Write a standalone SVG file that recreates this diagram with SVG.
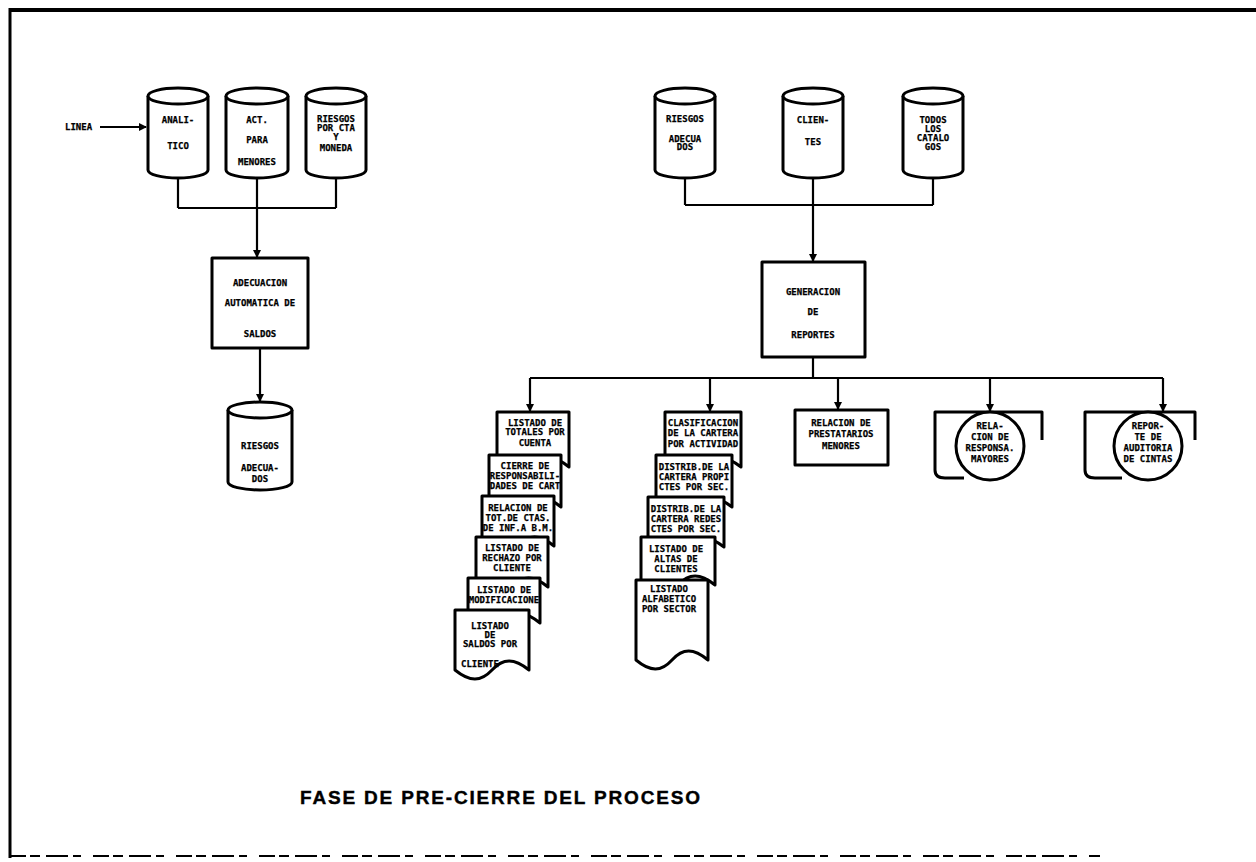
<svg xmlns="http://www.w3.org/2000/svg" width="1256" height="862" viewBox="0 0 1256 862">
  <style>
    .ln { fill: none; stroke: #000; stroke-width: 2.2; }
    .shape { fill: #fff; stroke: #000; stroke-width: 3; stroke-linejoin: round; }
    .t { font-family: "DejaVu Sans Mono", "Liberation Mono", monospace; font-weight: bold; font-size: 9px; fill: #000; stroke: #000; stroke-width: 0.25; text-anchor: middle; }
    .tl { text-anchor: start; }
    .title { font-family: "Liberation Sans", Arial, sans-serif; font-weight: bold; font-size: 19px; fill: #000; stroke: #000; stroke-width: 0.4; }
  </style>
  <defs>
    <marker id="arr" markerWidth="8" markerHeight="8" refX="7" refY="4" orient="auto" markerUnits="userSpaceOnUse">
      <path d="M0,0 L8,4 L0,8 Z" fill="#000"/>
    </marker>
  </defs>

  <rect width="1256" height="862" fill="#fff"/>

  <!-- page frame -->
  <g id="frame">
    <path d="M10,10 H1256" fill="none" stroke="#000" stroke-width="4"/>
    <path d="M10,8 V858" fill="none" stroke="#000" stroke-width="3"/>
    <path d="M10,856 H1100" fill="none" stroke="#000" stroke-width="2" stroke-dasharray="16 4 10 6 22 5 8 12"/>
  </g>

  <!-- connectors -->
  <g id="connectors">
    <path class="ln" d="M100,127 H146" marker-end="url(#arr)"/>
    <path class="ln" d="M178,178 V208 M257,178 V208 M336,178 V208 M178,208 H336"/>
    <path class="ln" d="M257,208 V257" marker-end="url(#arr)"/>
    <path class="ln" d="M260,348 V401" marker-end="url(#arr)"/>
    <path class="ln" d="M685,178 V205 M813,178 V205 M933,178 V205 M685,205 H933"/>
    <path class="ln" d="M813,205 V261" marker-end="url(#arr)"/>
    <path class="ln" d="M813,357 V378 M530,378 H1163"/>
    <path class="ln" d="M530,378 V411" marker-end="url(#arr)"/>
    <path class="ln" d="M710,378 V411" marker-end="url(#arr)"/>
    <path class="ln" d="M838,378 V409" marker-end="url(#arr)"/>
    <path class="ln" d="M990,378 V411" marker-end="url(#arr)"/>
    <path class="ln" d="M1163,378 V411" marker-end="url(#arr)"/>
  </g>

  <g id="linea">
    <text class="t tl" x="65" y="130">LINEA</text>
  </g>

  <!-- input files -->
  <g id="analitico">
    <path class="shape" d="M148,96 V170 A30,8 0 0 0 208,170 V96"/>
    <ellipse class="shape" cx="178" cy="96" rx="30" ry="8"/>
    <text class="t" x="178" y="123">ANALI-</text>
    <text class="t" x="178" y="149">TICO</text>
  </g>
  <g id="act-menores">
    <path class="shape" d="M226,96 V170 A31,8 0 0 0 288,170 V96"/>
    <ellipse class="shape" cx="257" cy="96" rx="31" ry="8"/>
    <text class="t" x="257" y="123">ACT.</text>
    <text class="t" x="257" y="143">PARA</text>
    <text class="t" x="257" y="165">MENORES</text>
  </g>
  <g id="riesgos-cta">
    <path class="shape" d="M306,96 V170 A30,8 0 0 0 366,170 V96"/>
    <ellipse class="shape" cx="336" cy="96" rx="30" ry="8"/>
    <text class="t" x="336" y="122">RIESGOS</text>
    <text class="t" x="336" y="131">POR CTA</text>
    <text class="t" x="336" y="140">Y</text>
    <text class="t" x="336" y="151">MONEDA</text>
  </g>

  <g id="adecuacion">
    <rect class="shape" x="212" y="258" width="96" height="90"/>
    <text class="t" x="260" y="286">ADECUACION</text>
    <text class="t" x="260" y="306">AUTOMATICA DE</text>
    <text class="t" x="260" y="337">SALDOS</text>
  </g>

  <g id="riesgos-adecuados-out">
    <path class="shape" d="M228,410 V482 A32,8 0 0 0 292,482 V410"/>
    <ellipse class="shape" cx="260" cy="410" rx="32" ry="8"/>
    <text class="t" x="260" y="449">RIESGOS</text>
    <text class="t" x="260" y="471">ADECUA-</text>
    <text class="t" x="260" y="482">DOS</text>
  </g>

  <g id="riesgos-adecuados-in">
    <path class="shape" d="M655,96 V170 A30,8 0 0 0 715,170 V96"/>
    <ellipse class="shape" cx="685" cy="96" rx="30" ry="8"/>
    <text class="t" x="685" y="122">RIESGOS</text>
    <text class="t" x="685" y="142">ADECUA</text>
    <text class="t" x="685" y="150">DOS</text>
  </g>
  <g id="clientes">
    <path class="shape" d="M783,96 V170 A30,8 0 0 0 843,170 V96"/>
    <ellipse class="shape" cx="813" cy="96" rx="30" ry="8"/>
    <text class="t" x="813" y="123">CLIEN-</text>
    <text class="t" x="813" y="145">TES</text>
  </g>
  <g id="catalogos">
    <path class="shape" d="M903,96 V170 A30,8 0 0 0 963,170 V96"/>
    <ellipse class="shape" cx="933" cy="96" rx="30" ry="8"/>
    <text class="t" x="933" y="123">TODOS</text>
    <text class="t" x="933" y="132">LOS</text>
    <text class="t" x="933" y="141">CATALO</text>
    <text class="t" x="933" y="150">GOS</text>
  </g>

  <g id="generacion">
    <rect class="shape" x="762" y="262" width="103" height="95"/>
    <text class="t" x="813" y="295">GENERACION</text>
    <text class="t" x="813" y="315">DE</text>
    <text class="t" x="813" y="338">REPORTES</text>
  </g>

  <!-- account reports -->
  <g id="rep-totales">
    <path class="shape" d="M497,412 H569 V467 C554.6,455 543.8,455 533,467 C522.2,479 511.4,479 497,467 Z"/>
    <text class="t" x="535" y="426">LISTADO DE</text>
    <text class="t" x="535" y="435">TOTALES POR</text>
    <text class="t" x="535" y="446">CUENTA</text>
  </g>
  <g id="rep-cierre">
    <path class="shape" d="M489,455 H561 V507 C546.6,495 535.8,495 525,507 C514.2,519 503.4,519 489,507 Z"/>
    <text class="t" x="525" y="469">CIERRE DE</text>
    <text class="t" x="525" y="479">RESPONSABILI-</text>
    <text class="t" x="525" y="489">DADES DE CART</text>
  </g>
  <g id="rep-relacion-ctas">
    <path class="shape" d="M482,496 H554 V546 C539.6,534 528.8,534 518,546 C507.2,558 496.4,558 482,546 Z"/>
    <text class="t" x="518" y="511">RELACION DE</text>
    <text class="t" x="518" y="521">TOT.DE CTAS.</text>
    <text class="t" x="518" y="531">DE INF.A B.M.</text>
  </g>
  <g id="rep-rechazo">
    <path class="shape" d="M476,537 H548 V587 C533.6,575 522.8,575 512,587 C501.2,599 490.4,599 476,587 Z"/>
    <text class="t" x="512" y="551">LISTADO DE</text>
    <text class="t" x="512" y="561">RECHAZO POR</text>
    <text class="t" x="512" y="571">CLIENTE</text>
  </g>
  <g id="rep-modificaciones">
    <path class="shape" d="M468,578 H540 V623 C525.6,611 514.8,611 504,623 C493.2,635 482.4,635 468,623 Z"/>
    <text class="t" x="504" y="593">LISTADO DE</text>
    <text class="t" x="504" y="603">MODIFICACIONE</text>
  </g>
  <g id="rep-saldos">
    <path class="shape" d="M455,610 H529 V670 C514.2,658 503.1,658 492,670 C480.9,682 469.8,682 455,670 Z"/>
    <text class="t" x="490" y="629">LISTADO</text>
    <text class="t" x="490" y="638">DE</text>
    <text class="t" x="490" y="647">SALDOS POR</text>
    <text class="t tl" x="461" y="667">CLIENTE</text>
  </g>

  <!-- portfolio reports -->
  <g id="rep-clasificacion">
    <path class="shape" d="M665,412 H741 V467 C725.8,455 714.4,455 703,467 C691.6,479 680.2,479 665,467 Z"/>
    <text class="t" x="703" y="426">CLASIFICACION</text>
    <text class="t" x="703" y="436">DE LA CARTERA</text>
    <text class="t" x="703" y="447">POR ACTIVIDAD</text>
  </g>
  <g id="rep-distrib-propi">
    <path class="shape" d="M656,455 H732 V507 C716.8,495 705.4,495 694,507 C682.6,519 671.2,519 656,507 Z"/>
    <text class="t" x="694" y="470">DISTRIB.DE LA</text>
    <text class="t" x="694" y="480">CARTERA PROPI</text>
    <text class="t" x="694" y="490">CTES POR SEC.</text>
  </g>
  <g id="rep-distrib-redes">
    <path class="shape" d="M648,497 H724 V547 C708.8,535 697.4,535 686,547 C674.6,559 663.2,559 648,547 Z"/>
    <text class="t" x="686" y="512">DISTRIB.DE LA</text>
    <text class="t" x="686" y="522">CARTERA REDES</text>
    <text class="t" x="686" y="532">CTES POR SEC.</text>
  </g>
  <g id="rep-altas">
    <path class="shape" d="M641,537 H715 V585 C700.2,573 689.1,573 678,585 C666.9,597 655.8,597 641,585 Z"/>
    <text class="t" x="676" y="552">LISTADO DE</text>
    <text class="t" x="676" y="562">ALTAS DE</text>
    <text class="t" x="676" y="572">CLIENTES</text>
  </g>
  <g id="rep-alfabetico">
    <path class="shape" d="M636,580 H708 V660 C693.6,648 682.8,648 672,660 C661.2,672 650.4,672 636,660 Z"/>
    <text class="t" x="669" y="592">LISTADO</text>
    <text class="t" x="669" y="602">ALFABETICO</text>
    <text class="t" x="669" y="612">POR SECTOR</text>
  </g>

  <g id="rep-prestatarios">
    <rect class="shape" x="795" y="410" width="93" height="55"/>
    <text class="t" x="841" y="426">RELACION DE</text>
    <text class="t" x="841" y="437">PRESTATARIOS</text>
    <text class="t" x="841" y="449">MENORES</text>
  </g>

  <!-- tape reports -->
  <g id="rep-responsa">
    <path class="shape" d="M1042,440 V412 H935 V470 Q935,478 945,478 H964" fill="none"/>
    <circle class="shape" cx="990" cy="446" r="34"/>
    <text class="t" x="990" y="429">RELA-</text>
    <text class="t" x="990" y="440">CION DE</text>
    <text class="t" x="990" y="451">RESPONSA.</text>
    <text class="t" x="990" y="462">MAYORES</text>
  </g>
  <g id="rep-auditoria">
    <path class="shape" d="M1195,440 V412 H1085 V470 Q1085,478 1095,478 H1122" fill="none"/>
    <circle class="shape" cx="1148" cy="446" r="34"/>
    <text class="t" x="1148" y="429">REPOR-</text>
    <text class="t" x="1148" y="440">TE DE</text>
    <text class="t" x="1148" y="451">AUDITORIA</text>
    <text class="t" x="1148" y="462">DE CINTAS</text>
  </g>

  <g id="caption">
    <text class="title" x="300" y="804" textLength="400" lengthAdjust="spacing">FASE DE PRE-CIERRE DEL PROCESO</text>
  </g>
</svg>
